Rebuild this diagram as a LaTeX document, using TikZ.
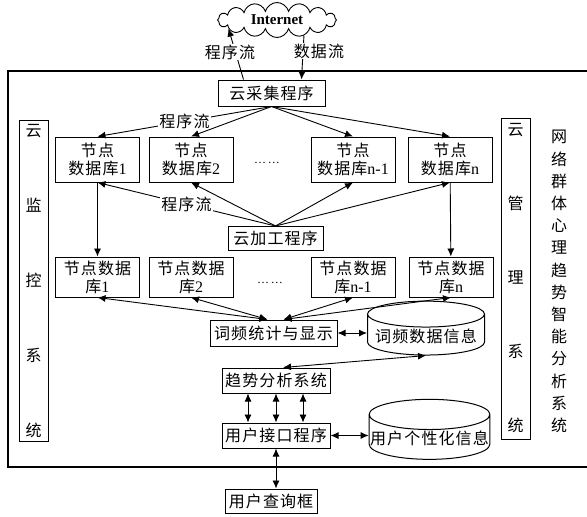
\documentclass[tikz,border=0pt]{standalone}
\usepackage{fontspec}
\setmainfont[LetterSpace=7]{Noto Sans CJK SC}
\newfontfamily\lat{Liberation Serif}
\usetikzlibrary{positioning,arrows.meta,shapes.geometric,shapes.symbols}

\begin{document}
\begin{tikzpicture}[
  x=1pt, y=-1pt,
  box/.style={draw,line width=1pt,align=center,inner sep=2pt,
              font=\fontsize{16}{18}\selectfont},
  dbox/.style={box,minimum width=84pt,minimum height=45pt},
  side/.style={draw,line width=1pt,minimum width=29pt,align=center,
               font=\fontsize{16}{18}\selectfont},
  store/.style={cylinder,shape border rotate=90,draw,line width=1pt,aspect=0.25,
                minimum width=117pt,minimum height=48pt,inner sep=1pt,
                font=\fontsize{16}{18}\selectfont},
  flow/.style={-{Latex[length=8pt,width=7pt]},line width=0.9pt},
  both/.style={{Latex[length=8pt,width=7pt]}-{Latex[length=8pt,width=7pt]},line width=0.9pt},
  lab/.style={fill=white,inner sep=1pt,font=\fontsize{16}{18}\selectfont},
  dots/.style={font=\fontsize{12}{14}\lat}
]
\useasboundingbox (0,0) rectangle (587,517);
\draw[line width=1.3pt] (587,71) -- (8,71) -- (8,467) -- (587,467);

\node[cloud,draw,line width=0.9pt,cloud puffs=16,aspect=3.4,minimum width=119pt,minimum height=35pt,
      inner sep=0pt,font={\fontsize{15}{17}\lat\bfseries}] (net) at (277,20) {Internet};
\node[box,minimum width=107pt,minimum height=26pt] (collect) at (271.5,93) {云采集程序};

\node[dbox] (db1) at (97.5,159.5) {节点\\数据库{\lat 1}};
\node[dbox] (db2) at (191,159.5) {节点\\数据库{\lat 2}};
\node[dots] (dt1) at (267,163) {…\,…};
\node[dbox] (dbm) at (353,159.5) {节点\\数据库{\lat n-1}};
\node[dbox] (dbn) at (450,159.5) {节点\\数据库{\lat n}};

\node[box,minimum width=95pt,minimum height=24pt] (proc) at (275.5,238.5) {云加工程序};

\node[dbox,minimum height=40pt] (nb1) at (97.5,277) {节点数据\\库{\lat 1}};
\node[dbox,minimum height=40pt] (nb2) at (191,277) {节点数据\\库{\lat 2}};
\node[dots] (dt2) at (270,283) {…\,…};
\node[dbox,minimum height=40pt] (nbm) at (353,277) {节点数据\\库{\lat n-1}};
\node[dbox,minimum height=40pt] (nbn) at (451,277) {节点数据\\库{\lat n}};

\node[box,minimum width=127pt,minimum height=26pt] (stat) at (273.5,333) {词频统计与显示};
\node[store] (freq) at (426,336) {词频数据信息};
\node[box,minimum width=108pt,minimum height=25pt] (trend) at (276,380.5) {趋势分析系统};
\node[box,minimum width=108pt,minimum height=25pt] (ui) at (276,435.5) {用户接口程序};
\node[store] (pref) at (429.5,438.5) {用户个性化信息};
\node[box,minimum width=92pt,minimum height=24pt] (query) at (271,501) {用户查询框};

\node[side,minimum height=320pt] (mon) at (33.5,281) {云\\[57pt]监\\[57pt]控\\[57pt]系\\[57pt]统};
\node[side,minimum height=321pt] (mgr) at (515.5,278.5) {云\\[56pt]管\\[56pt]理\\[56pt]系\\[56pt]统};
\node[align=center,font=\fontsize{16}{22.2}\selectfont] (title) at (559,281.5)
  {网\\络\\群\\体\\心\\理\\趋\\势\\智\\能\\分\\析\\系\\统};

\draw[flow] ([xshift=-28]collect.north) -- (net.190);
\draw[flow] (net.-30) -- ([xshift=30]collect.north);
\node[lab] (pf0) at (230,52) {程序流};
\node[lab] (df0) at (319,51) {数据流};

\draw[flow] (collect.south) -- node[lab]{程序流} (db1.north);
\draw[flow] (collect.south) -- (db2.north);
\draw[flow] (collect.south) -- (dbm.north);
\draw[flow] (collect.south) -- (dbn.north);

\draw[flow] (proc.north) -- node[lab]{程序流} (db1.south);
\draw[flow] (proc.north) -- (db2.south);
\draw[flow] (proc.north) -- (dbm.south);
\draw[flow] (proc.north) -- (dbn.south);

\draw[flow] (db1) -- (nb1);
\draw[flow] (dbn) -- (nbn);

\draw[both] ([xshift=-6]stat.north) -- (nb1.south);
\draw[both] ([xshift=-6]stat.north) -- (nb2.south);
\draw[both] ([xshift=10]stat.north) -- (nbm.south);
\draw[both] ([xshift=10]stat.north) -- (nbn.south);

\draw[both] (stat.east) -- (stat.east -| freq.west);
\draw[both] ([xshift=7]trend.north) -- (freq.south);
\foreach \s in {-28,0,27}
  \draw[both] ([xshift=\s]trend.south) -- ([xshift=\s]ui.north);
\draw[both] (ui.east) -- (ui.east -| pref.west);
\draw[both] (ui.south) -- (ui.south |- query.north);
\end{tikzpicture}
\end{document}
